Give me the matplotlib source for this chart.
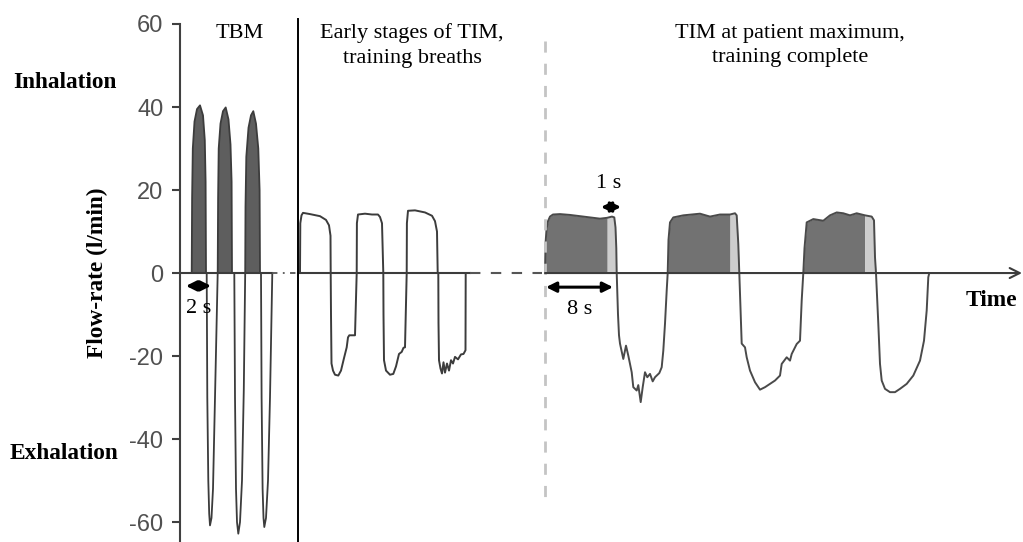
import matplotlib
matplotlib.use("Agg")
import matplotlib.pyplot as plt
import numpy as np

# time in arbitrary units (origin at the flow axis), flow in l/min
tbm_t = [11.7, 12.1, 12.8, 14.5, 17, 20, 23, 24.8, 25.6, 26,
         26.7, 27.3, 28.3, 29.2, 30, 31.5, 33, 35, 36.8, 37.7,
         38.1, 38.7, 40.5, 43, 45.7, 48.5, 50.5, 51.6, 52,
         54.3, 55, 56, 57, 58.3, 60, 62, 63.8, 65.2,
         65.5, 66.3, 68.5, 71, 73.3, 76, 78.3, 79.6, 80,
         81, 81.6, 82.6, 83.5, 84.3, 86, 88, 90, 92.3]
tbm_f = [0, 18, 30, 36.5, 39.5, 40.4, 38, 32, 22, 0,
         0, -30, -50, -58, -60.8, -59, -52, -30, -10, 0,
         18, 30, 36, 39, 39.9, 37, 31, 22, 0,
         0, -30, -52, -60, -62.8, -60, -50, -28, 0,
         16, 28, 35, 38, 39, 36, 30, 20, 0,
         0, -30, -52, -59, -61.2, -59, -50, -30, 0]

early_t = [120, 120.3, 121.5, 123, 130, 140, 146, 149, 150.5, 150.7,
           151, 151.5, 153, 155, 158.3, 161, 164, 166.7, 168, 169.3, 175, 176.7,
           176.9, 178, 185, 192, 198, 200, 202, 203.3,
           203.5, 204, 206, 210, 213.3, 216, 219, 221.7, 223.5, 225, 226.7,
           226.9, 228, 235, 245, 252, 255, 257, 257.7,
           258.3, 258.5, 259, 260.5, 262, 263.5, 265, 267, 269, 271, 273,
           275, 278, 281, 283.5, 285.5, 285.7]
early_f = [0, 12, 13.9, 14.5, 14.2, 13.7, 12.8, 11.5, 9, 0,
           -10, -21.8, -23.5, -24.5, -24.7, -23.5, -20.5, -17.9, -15.5, -15, -15, 0,
           12, 14.1, 14.3, 14.1, 14.1, 13.5, 12, 0,
           -10, -21, -23.5, -24.5, -24.3, -22.5, -19.5, -19, -18, -17.9, 0,
           12, 15, 15.1, 14.6, 13.8, 12.5, 10, 0,
           0, -12, -21, -23, -24.2, -21.5, -24, -21.8, -23.5, -21, -21.8,
           -20.2, -20.8, -19.6, -19.5, -18.6, 0]

tim_t = [365, 365.5, 366.5, 368, 370, 373, 380, 390, 400, 410, 420, 427, 432, 434.3, 435.5, 436.3, 436.7,
         438, 439, 440, 443.3, 446, 448.3, 451.7, 453.3, 456.7, 458.3, 460.7, 462.7, 465, 467.3,
         470, 472.7, 475, 479.3, 481.7, 483.3, 485, 486.7, 487.7,
         488.5, 490, 493.3, 503.3, 520, 530, 540, 550, 555, 556.7, 558.3, 559.3,
         561.7, 565, 566.7, 570, 575, 580, 585, 590, 595, 600, 601.7, 606.7, 610, 611.7,
         616.7, 620, 621.7, 623.3,
         624.5, 626.7, 633.3, 643.3, 650, 656.7, 663.3, 670, 676.7, 685, 691.7, 694, 695, 696,
         698.3, 700, 701.7, 705, 710, 715, 720, 726.7, 733.3, 740, 744, 746.7, 748.3, 749.3]
tim_f = [0, 7, 10.5, 12.5, 13.6, 14.1, 14.2, 14, 13.7, 13.4, 13.1, 13.3, 13.6, 13.4, 11, 6, 0,
         -10, -15, -17, -20.7, -17.5, -19.9, -23.9, -27.5, -28.3, -27, -31.1, -27.5, -23.9, -25.1,
         -24.3, -26.1, -25.1, -24.1, -22.7, -18.7, -12.2, -4.2, 0,
         8, 12.2, 13.4, 13.9, 14.3, 13.6, 14.1, 14.1, 14.4, 13.9, 7, 0,
         -17, -17.9, -20.3, -23.5, -26.3, -28.1, -27.5, -26.7, -25.9, -24.7, -21.9, -20.3, -21.1, -19.5,
         -17.1, -16.3, -6.6, 0,
         6, 12.2, 13, 12.6, 13.9, 14.6, 14.4, 13.9, 14.4, 13.9, 13.6, 12.7, 3.8, 0,
         -12.2, -21.9, -25.9, -27.9, -28.7, -28.7, -27.9, -26.7, -24.7, -21.1, -16.3, -9, -1, 0]

# inhalation windows of the max-TIM breaths and start of the last 1 s (light grey)
tim_breaths = [(365, 436.7), (487.7, 559.3), (623.3, 696)]
tim_last_sec = [427.3, 550, 685]

yticks = [-60, -40, -20, 0, 20, 40, 60]

serif = "Liberation Serif"
fs = 16
fsb = 16.8
line_c = "#3c3c3c"

fig = plt.figure(figsize=(10.23, 5.42), dpi=100)
ax = fig.add_axes([180 / 1023, 0.0, 843 / 1023, 0.9787])
ax.set_xlim(0, 843)
ax.set_ylim(-64.8, 63)

tbm_t = np.array(tbm_t); tbm_f = np.array(tbm_f)
tim_t = np.array(tim_t); tim_f = np.array(tim_f)

# filled TBM inhalations
ax.fill_between(tbm_t, tbm_f, 0, where=tbm_f >= 0, color="#5e5e5e", lw=0)
ax.plot(tbm_t, tbm_f, color=line_c, lw=1.3)

ax.plot(early_t, early_f, color=line_c, lw=1.4)

for (a, b), s in zip(tim_breaths, tim_last_sec):
    tt = np.linspace(a, b, 300)
    ff = np.interp(tt, tim_t, tim_f)
    ax.fill_between(tt, ff, 0, where=tt <= s, color="#727272", lw=0)
    ax.fill_between(tt, ff, 0, where=tt >= s, color="#cdcdcd", lw=0)
ax.plot(tim_t, tim_f, color="#4a4a4a", lw=1.4)

# zero line, pieced together
ax.plot([0, 92], [0, 0], color=line_c, lw=1.5)
ax.plot([92, 118], [0, 0], color="#555555", lw=1.3, ls=(0, (3, 3, 1, 3)))
ax.plot([118, 290], [0, 0], color=line_c, lw=1.5)
ax.plot([290, 362], [0, 0], color="#555555", lw=1.5, ls=(0, (5, 5)))
ax.annotate("", xy=(842, 0), xytext=(365, 0),
            arrowprops=dict(arrowstyle="->", color=line_c, lw=1.5, mutation_scale=18,
                            shrinkA=0, shrinkB=0))

# section separators
ax.plot([118, 118], [61.3, -66], color="black", lw=1.4, clip_on=False)
ax.plot([365, 365], [56, -56], color="#c4c4c4", lw=2, ls=(0, (4, 4)))

# time scale arrows
arr = dict(arrowstyle="<|-|>", color="black", lw=2.2, mutation_scale=15, shrinkA=0, shrinkB=0)
ax.annotate("", xy=(6, -3.1), xytext=(31, -3.1), arrowprops=arr)
ax.text(18.5, -8.6, "2 s", family=serif, fontsize=fs, ha="center", va="center")
ax.annotate("", xy=(366, -3.4), xytext=(433, -3.4), arrowprops=arr)
ax.text(400, -8.8, "8 s", family=serif, fontsize=fs, ha="center", va="center")
ax.annotate("", xy=(421, 15.9), xytext=(441, 15.9), arrowprops=arr)
ax.text(429, 21.6, "1 s", family=serif, fontsize=fs, ha="center", va="center")

# section titles
ax.text(60, 57.7, "TBM", family=serif, fontsize=fs, ha="center", va="center")
ax.text(232, 54.8, "Early stages of TIM,\ntraining breaths", family=serif, fontsize=fs,
        ha="center", va="center", linespacing=1.4)
ax.text(610, 54.8, "TIM at patient maximum,\ntraining complete", family=serif, fontsize=fs,
        ha="center", va="center", linespacing=1.4)

ax.text(-115, 46, "Inhalation", family=serif, fontsize=fsb, fontweight="bold",
        ha="center", va="center", clip_on=False)
ax.text(-116, -43.5, "Exhalation", family=serif, fontsize=fsb, fontweight="bold",
        ha="center", va="center", clip_on=False)
ax.text(-83, 0, "Flow-rate (l/min)", family=serif, fontsize=fsb, fontweight="bold",
        rotation=90, ha="center", va="center", clip_on=False)
ax.text(811, -6.5, "Time", family=serif, fontsize=fsb, fontweight="bold",
        ha="center", va="center")

for s in ["top", "right", "bottom"]:
    ax.spines[s].set_visible(False)
ax.spines["left"].set_bounds(-66, 60)
ax.spines["left"].set_color("#404040")
ax.spines["left"].set_linewidth(1.5)
ax.set_xticks([])
ax.set_yticks(yticks)
ax.set_yticklabels([str(v) for v in yticks], family="Liberation Sans", fontsize=17, color="#505050")
ax.tick_params(axis="y", direction="out", length=6, width=1.5, color="#404040", pad=6)

fig.savefig("out.png", dpi=100)
